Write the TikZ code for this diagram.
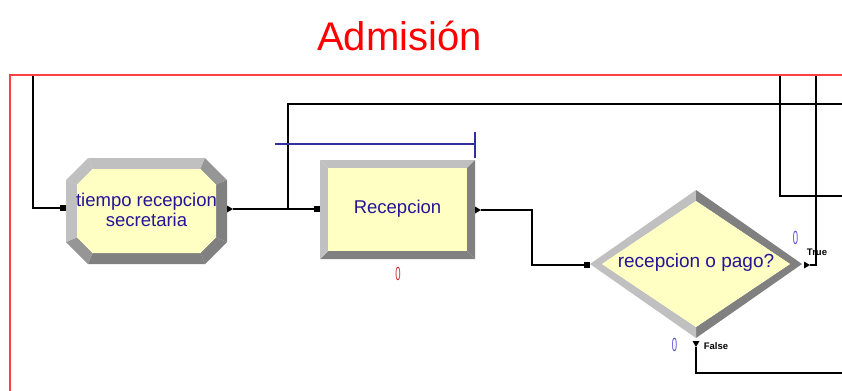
\documentclass[tikz,border=0pt]{standalone}
\usepackage{fontspec}
\setmainfont{Liberation Sans}
\definecolor{bevL}{RGB}{192,192,192}
\definecolor{bevD}{RGB}{128,128,128}
\definecolor{bevM}{RGB}{150,150,150}
\definecolor{boxfill}{RGB}{255,255,196}
\definecolor{navy}{RGB}{36,20,150}
\definecolor{framered}{RGB}{255,64,64}
\definecolor{barblue}{RGB}{48,48,160}
\definecolor{cntred}{RGB}{200,50,50}
\definecolor{cntblue}{RGB}{90,80,210}
\tikzset{
  conn/.style={draw=black, line width=1.3bp},
  inport/.style={fill=black, minimum size=6bp, inner sep=0pt, outer sep=0pt},
  lbl/.style={text=navy, align=center, inner sep=0pt, font=\fontsize{18.5bp}{20bp}\selectfont},
  cnt/.style={inner sep=0pt, font=\fontsize{19bp}{19bp}\selectfont},
  tf/.style={inner sep=0pt, text=black, font=\bfseries\fontsize{9.5bp}{10bp}\selectfont},
}
\begin{document}
\begin{tikzpicture}[x=1bp,y=-1bp]
\useasboundingbox (0,0) rectangle (842,390);
\clip (0,0) rectangle (842,390);
\fill[white] (0,0) rectangle (842,390);

% title
\node[anchor=base, text=red, inner sep=0pt, font=\fontsize{40bp}{48bp}\selectfont] (title) at (399.5,50) {Admisión};

% ---- tiempo recepcion secretaria (octagon)
\fill[bevL] (88,158) -- (205,158) -- (200.4,169) -- (92.6,169) -- cycle;
\fill[bevM] (205,158) -- (227,180) -- (216,184.6) -- (200.4,169) -- cycle;
\fill[bevD] (227,180) -- (227,242) -- (216,237.4) -- (216,184.6) -- cycle;
\fill[bevD] (227,242) -- (205,264) -- (200.4,253) -- (216,237.4) -- cycle;
\fill[bevD] (205,264) -- (88,264) -- (92.6,253) -- (200.4,253) -- cycle;
\fill[bevM] (88,264) -- (66,242) -- (77,237.4) -- (92.6,253) -- cycle;
\fill[bevL] (66,242) -- (66,180) -- (77,184.6) -- (77,237.4) -- cycle;
\fill[bevL] (66,180) -- (88,158) -- (92.6,169) -- (77,184.6) -- cycle;
\fill[boxfill] (92.6,169) -- (200.4,169) -- (216,184.6) -- (216,237.4) -- (200.4,253) -- (92.6,253) -- (77,237.4) -- (77,184.6) -- cycle;
\node[lbl] (tiempo) at (146.5,210) {tiempo recepcion\\secretaria};

% ---- Recepcion (rectangle)
\fill[bevL] (320,160) -- (475,160) -- (467,168) -- (328,168) -- cycle;
\fill[bevD] (475,160) -- (475,259) -- (467,251) -- (467,168) -- cycle;
\fill[bevD] (475,259) -- (320,259) -- (328,251) -- (467,251) -- cycle;
\fill[bevL] (320,259) -- (320,160) -- (328,168) -- (328,251) -- cycle;
\fill[boxfill] (328,168) rectangle (467,251);
\node[lbl] (recep) at (397.5,209) {Recepcion};

% ---- decision (diamond)
\fill[bevL] (590,264) -- (696,190) -- (696,201) -- (602,264) -- cycle;
\fill[bevD] (696,190) -- (802,264) -- (790,264) -- (696,201) -- cycle;
\fill[bevD] (802,264) -- (696,338) -- (696,327) -- (790,264) -- cycle;
\fill[bevL] (696,338) -- (590,264) -- (602,264) -- (696,327) -- cycle;
\fill[boxfill] (602,264) -- (696,201) -- (790,264) -- (696,327) -- cycle;
\node[lbl, font=\fontsize{19bp}{20bp}\selectfont] (decide) at (696,263) {recepcion o pago?};

% ---- ports
\node[inport] (tIn) at (63,208) {};
\fill (227,205.5) -- (233,209) -- (227,212.5) -- cycle;
\coordinate (tOut) at (233,209);
\node[inport] (rIn) at (317,209) {};
\fill (475,206.5) -- (481,210) -- (475,213.5) -- cycle;
\coordinate (rOut) at (481,210);
\node[inport] (dIn) at (587,265) {};
\fill (804,261.5) -- (810,265) -- (804,268.5) -- cycle;
\coordinate (dT) at (810,265);
\fill (692.5,341) -- (699.5,341) -- (696,347) -- cycle;
\coordinate (dF) at (696,347);

% ---- connector end points
\coordinate (src1) at (33,75);
\coordinate (j1) at (288,209);
\coordinate (e1) at (850,104);
\coordinate (ftop1) at (780,75);
\coordinate (e2) at (850,196);
\coordinate (ftop2) at (816,75);
\coordinate (e3) at (850,373);

% ---- connectors
\draw[conn] (src1) |- (tIn.west);
\draw[conn] (tOut) -- (rIn.west);
\draw[conn] (j1) |- (e1);
\draw[conn] (rOut) -- ++(51,0) |- (dIn.west);
\draw[conn] (ftop1) |- (e2);
\draw[conn] (dT) -| (ftop2);
\draw[conn] (dF) |- (e3);

% ---- queue bar
\coordinate (qa) at (275,144);
\coordinate (qb) at (475,144);
\draw[barblue, line width=1.3bp] (qa) -- (qb);
\draw[barblue, line width=1.3bp] ([yshift=-14bp]qb) -- ([yshift=12bp]qb);

% ---- counters and labels
\node[cnt, text=cntred] (c1) at (398,274) {\scalebox{0.5}[1]{0}};
\node[cnt, text=cntblue] (c2) at (795.5,238) {\scalebox{0.5}[1]{0}};
\node[cnt, text=cntblue] (c3) at (674.5,344.5) {\scalebox{0.5}[1]{0}};
\node[tf] (ltrue) at (817,252) {True};
\node[tf] (lfalse) at (716,346.5) {False};

% ---- red frame
\draw[framered, line width=1.3bp] (10,400) -- (10,75) -- (850,75);
\end{tikzpicture}
\end{document}
